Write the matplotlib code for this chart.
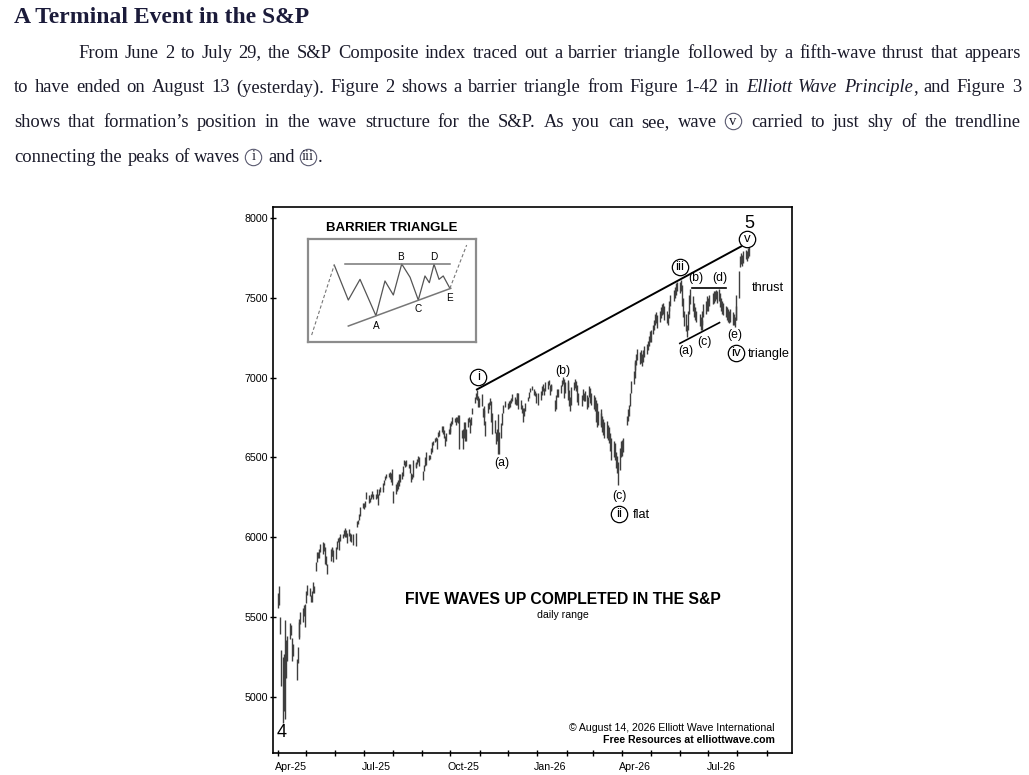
import matplotlib
matplotlib.use('Agg')
import matplotlib.pyplot as plt
import matplotlib.dates as mdates
from matplotlib.lines import Line2D
import pandas as pd

W, H = 1029, 775
SERIF = 'Liberation Serif'
SANS = 'Liberation Sans'
plt.rcParams['font.family'] = SANS

# ---------------- data ----------------
holidays = ['2025-04-18', '2025-05-26', '2025-06-19', '2025-07-04', '2025-09-01',
            '2025-11-27', '2025-12-25', '2026-01-01', '2026-01-19', '2026-02-16',
            '2026-04-03', '2026-05-25', '2026-06-19', '2026-07-03']

highs = [
    # Apr-25
    5650, 5695, 5500, 5292, 5246, 5267, 5481, 5353, 5381, 5459, 5450, 5367, 5328, 5233, 5309, 5470, 5489, 5528, 5553, 5571, 5581,
    # May-25
    5659, 5700, 5683, 5634, 5660, 5721, 5691, 5845, 5907, 5906, 5924, 5959, 5968, 5960, 5940, 5878, 5830, 5925, 5930, 5939, 5920,
    # Jun-25
    5940, 5978, 5991, 5999, 6016, 6021, 6044, 6059, 6045, 6027, 6051, 6024, 6018, 6018, 6028, 6101, 6108, 6146, 6187, 6215,
    # Jul-25
    6211, 6227, 6284, 6262, 6242, 6269, 6290, 6269, 6271, 6302, 6267, 6304, 6316, 6336, 6310, 6360, 6381, 6395, 6401, 6409, 6402, 6427,
    # Aug-25
    6288, 6330, 6344, 6357, 6396, 6395, 6409, 6446, 6480, 6474, 6481, 6458, 6456, 6404, 6394, 6482, 6467, 6468, 6490, 6508, 6501,
    # Sep-25
    6416, 6453, 6502, 6533, 6512, 6512, 6555, 6593, 6601, 6619, 6627, 6623, 6657, 6672, 6696, 6695, 6670, 6634, 6651, 6677, 6689,
    # Oct-25
    6715, 6727, 6750, 6745, 6755, 6755, 6762, 6764, 6673, 6680, 6722, 6721, 6680, 6744, 6752, 6742, 6750, 6808, 6877, 6900, 6920, 6883, 6869,
    # Nov-25
    6896, 6806, 6820, 6797, 6730, 6843, 6849, 6870, 6850, 6775, 6736, 6660, 6680, 6770, 6660, 6716, 6780, 6830, 6853,
    # Dec-25
    6840, 6850, 6862, 6870, 6895, 6880, 6865, 6900, 6905, 6900, 6860, 6825, 6810, 6810, 6840, 6880, 6912, 6937, 6945, 6925, 6915, 6900,
    # Jan-26
    6900, 6915, 6945, 6960, 6935, 6970, 6980, 6986, 6950, 6960, 6955, 6860, 6890, 6930, 6925, 6955, 6985, 7002, 6990, 6970,
    # Feb-26
    6985, 6970, 6920, 6880, 6940, 6970, 6990, 6975, 6950, 6900, 6890, 6925, 6900, 6915, 6890, 6880, 6945, 6935, 6900,
    # Mar-26
    6890, 6880, 6860, 6840, 6790, 6800, 6780, 6760, 6740, 6720, 6730, 6700, 6690, 6650, 6620, 6600, 6590, 6530, 6510, 6470, 6560, 6600,
    # Apr-26
    6610, 6620, 6760, 6800, 6830, 6900, 6980, 7040, 7095, 7110, 7150, 7180, 7160, 7170, 7150, 7175, 7200, 7210, 7230, 7260, 7290,
    # May-26
    7300, 7330, 7360, 7400, 7410, 7390, 7420, 7440, 7460, 7470, 7450, 7420, 7400, 7440, 7480, 7520, 7550, 7570, 7590, 7600,
    # Jun-26
    7600, 7612, 7580, 7500, 7420, 7400, 7330, 7420, 7520, 7557, 7510, 7470, 7440, 7420, 7400, 7380, 7360, 7420, 7460, 7480, 7510,
    # Jul-26
    7500, 7520, 7530, 7540, 7545, 7550, 7540, 7557, 7530, 7500, 7480, 7470, 7450, 7440, 7430, 7420, 7430, 7410, 7400, 7380, 7450, 7520,
    # Aug-26
    7670, 7760, 7780, 7770, 7790, 7800, 7790, 7810, 7815,
]

lows = [
    # Apr-25
    5558, 5571, 5390, 5069, 4835, 4910, 4857, 5116, 5220, 5358, 5386, 5220, 5256, 5101, 5208, 5358, 5372, 5455, 5468, 5505, 5433,
    # May-25
    5586, 5634, 5633, 5590, 5591, 5651, 5646, 5786, 5841, 5868, 5868, 5907, 5896, 5915, 5831, 5826, 5767, 5851, 5883, 5878, 5843,
    # Jun-25
    5862, 5922, 5966, 5921, 5978, 5994, 6005, 6002, 6003, 5963, 6004, 5975, 5971, 5952, 5942, 6060, 6080, 6107, 6133, 6180,
    # Jul-25
    6177, 6187, 6241, 6211, 6217, 6237, 6251, 6240, 6238, 6242, 6201, 6264, 6285, 6303, 6281, 6325, 6360, 6368, 6375, 6361, 6346, 6327,
    # Aug-25
    6212, 6268, 6290, 6300, 6317, 6346, 6364, 6385, 6451, 6441, 6447, 6431, 6400, 6344, 6361, 6377, 6437, 6430, 6458, 6470, 6443,
    # Sep-25
    6360, 6416, 6445, 6452, 6485, 6486, 6522, 6534, 6575, 6596, 6601, 6551, 6624, 6633, 6658, 6645, 6620, 6570, 6605, 6646, 6644,
    # Oct-25
    6656, 6697, 6706, 6718, 6705, 6720, 6716, 6550, 6620, 6552, 6620, 6600, 6605, 6690, 6718, 6655, 6703, 6774, 6840, 6864, 6856, 6813, 6818,
    # Nov-25
    6820, 6753, 6752, 6705, 6631, 6780, 6800, 6830, 6720, 6646, 6650, 6580, 6605, 6522, 6521, 6618, 6700, 6780, 6815,
    # Dec-25
    6800, 6808, 6818, 6840, 6855, 6835, 6830, 6830, 6850, 6800, 6800, 6775, 6718, 6760, 6790, 6850, 6870, 6910, 6920, 6890, 6885, 6842,
    # Jan-26
    6830, 6860, 6890, 6915, 6890, 6915, 6930, 6950, 6890, 6915, 6920, 6790, 6800, 6875, 6880, 6905, 6945, 6960, 6870, 6900,
    # Feb-26
    6920, 6860, 6820, 6790, 6830, 6920, 6935, 6915, 6845, 6830, 6820, 6860, 6850, 6855, 6800, 6815, 6880, 6840, 6830,
    # Mar-26
    6800, 6790, 6720, 6690, 6700, 6700, 6690, 6660, 6640, 6620, 6620, 6610, 6590, 6540, 6480, 6500, 6480, 6430, 6400, 6325, 6420, 6500,
    # Apr-26
    6510, 6530, 6700, 6730, 6760, 6820, 6900, 6960, 7000, 7050, 7080, 7110, 7085, 7090, 7075, 7100, 7130, 7150, 7170, 7195, 7220,
    # May-26
    7220, 7270, 7300, 7330, 7340, 7310, 7350, 7370, 7390, 7400, 7360, 7340, 7330, 7370, 7420, 7450, 7480, 7500, 7520, 7540,
    # Jun-26
    7530, 7540, 7450, 7380, 7320, 7290, 7254, 7300, 7400, 7460, 7420, 7380, 7360, 7350, 7320, 7296, 7300, 7330, 7380, 7400, 7420,
    # Jul-26
    7420, 7450, 7460, 7470, 7480, 7490, 7470, 7480, 7440, 7420, 7400, 7390, 7380, 7360, 7350, 7340, 7350, 7330, 7330, 7316, 7360, 7360,
    # Aug-26
    7500, 7690, 7710, 7700, 7720, 7740, 7730, 7750, 7760,
]

trend_dates = ['2025-10-29', '2026-08-05']
trend_vals = [6925, 7822]
tri_top_dates = ['2026-06-14', '2026-07-20']
tri_top_vals = [7563, 7563]
tri_bot_dates = ['2026-06-01', '2026-07-13']
tri_bot_vals = [7214, 7344]

sub_labels = ['(a)', '(b)', '(c)', '(a)', '(b)', '(c)', '(d)', '(e)']
sub_dates = ['2025-11-24', '2026-01-28', '2026-03-29', '2026-06-07',
             '2026-06-18', '2026-06-27', '2026-07-13', '2026-07-29']
sub_vals = [6462, 7043, 6260, 7166, 7622, 7221, 7626, 7266]

circ_labels = ['i', 'ii', 'iii', 'iv', 'v']
circ_dates = ['2025-10-30 12:00', '2026-03-29 00:00', '2026-06-01 00:00', '2026-07-30 00:00', '2026-08-11 12:00']
circ_vals = [7001, 6142, 7691, 7152, 7866]

note_labels = ['flat', 'triangle', 'thrust']
note_dates = ['2026-04-12 00:00', '2026-08-12 12:00', '2026-09-02 12:00']
note_vals = [6138, 7147, 7559]
note_ha = ['left', 'left', 'center']

degree_labels = ['4', '5']
degree_dates = ['2025-04-05 00:00', '2026-08-13 06:00']
degree_vals = [4773, 7967]

# barrier triangle schematic (inset units 0-100)
bt_x = [15.5, 23.9, 30.9, 40.4, 45.8, 50.8, 55.8, 60.8, 65.7, 69.7, 72.3, 75.1, 78.1, 80.6, 84.6]
bt_y = [74.9, 40.7, 60.9, 25.4, 59.3, 45.6, 75.9, 62.9, 40.7, 64.2, 57.6, 75.6, 60.9, 64.2, 52.1]
bt_in_x, bt_in_y = [2.0, 15.5], [6.5, 74.9]
bt_out_x, bt_out_y = [84.6, 94.6], [52.1, 94.4]
bt_top_x, bt_top_y = [22.0, 84.8], [75.9, 75.9]
bt_bot_x, bt_bot_y = [23.9, 85.1], [15.3, 52.1]
bt_labels = ['A', 'B', 'C', 'D', 'E']
bt_lab_x = [40.4, 55.2, 65.7, 74.7, 84.6]
bt_lab_y = [15.6, 82.4, 31.6, 82.4, 42.4]

# article text; *x* italic, {x} circled, | joins pieces without a space
title = 'A Terminal Event in the S&P'
body_lines = [
    'From June 2 to July 29, the S&P Composite index traced out a barrier triangle followed by a fifth-wave thrust that appears',
    'to have ended on August 13 (yesterday). Figure 2 shows a barrier triangle from Figure 1-42 in *Elliott *Wave *Principle|, and Figure 3',
    'shows that formation\u2019s position in the wave structure for the S&P. As you can see, wave {v} carried to just shy of the trendline',
    'connecting the peaks of waves {i} and {iii}|.',
]

# ---------------- figure ----------------
fig = plt.figure(figsize=(W / 100, H / 100), dpi=100)
fig.patch.set_facecolor('white')
renderer = fig.canvas.get_renderer()

BODY_PT = 13.3
TEXT_COL = '#1a1a2a'


def fxy(x, y):
    return x / W, 1 - y / H


def seg_width(txt, kind):
    if kind == 'c':
        return 18.5
    t = fig.text(0, 0, txt, fontsize=BODY_PT, family=SERIF,
                 style='italic' if kind == 'i' else 'normal')
    w = t.get_window_extent(renderer).width
    t.remove()
    return w


def parse_word(word):
    segs = []
    for s in word.split('|'):
        if s.startswith('*'):
            segs.append((s[1:], 'i'))
        elif s.startswith('{'):
            segs.append((s[1:-1], 'c'))
        else:
            segs.append((s, 'n'))
    return segs


def draw_segment(x, base, txt, kind):
    if kind == 'c':
        cx, cy = x + 8.5, base - 6.0
        fig.add_artist(Line2D([cx / W], [1 - cy / H], transform=fig.transFigure,
                              marker='o', ms=11.8, mfc='none', mec='#5a5a70', mew=0.8))
        fig.text(*fxy(cx, cy), txt, fontsize=10.5, family=SERIF, color=TEXT_COL,
                 ha='center', va='center')
    else:
        fig.text(*fxy(x, base), txt, fontsize=BODY_PT, family=SERIF, color=TEXT_COL,
                 style='italic' if kind == 'i' else 'normal', va='baseline')


space_w = seg_width('a a', 'n') - seg_width('aa', 'n')


def draw_line(line, x0, x1, base, justify):
    words = [parse_word(w) for w in line.split(' ')]
    widths = [[seg_width(t, k) for t, k in w] for w in words]
    total = sum(sum(w) for w in widths)
    gap = (x1 - x0 - total) / (len(words) - 1) if justify else space_w
    x = x0
    for w, ws in zip(words, widths):
        for (t, k), sw in zip(w, ws):
            draw_segment(x, base, t, k)
            x += sw
        x += gap


fig.text(*fxy(14, 23), title, fontsize=17, family=SERIF, weight='bold',
         color='#1b1b3a', va='baseline')
line_base = [57.5, 92.5, 127.3, 162.5]
line_x0 = [78, 14, 14, 14]
for i, (ln, b, x0) in enumerate(zip(body_lines, line_base, line_x0)):
    draw_line(ln, x0, 1021, b, justify=(i < len(body_lines) - 1))

# ---------------- chart ----------------
ax = fig.add_axes([272.7 / W, 1 - 753 / H, 519 / W, 545.7 / H])
days = pd.bdate_range('2025-04-01', '2026-08-13', freq='C', holidays=holidays)
xd = mdates.date2num(days[:len(highs)])
ax.vlines(xd, lows, highs, color='#3f3f3f', lw=1.0)


def dnum(lst):
    return mdates.date2num(pd.to_datetime(lst, format='mixed'))


ax.set_xlim(dnum(['2025-03-26 16:00', '2026-09-27 12:00']))
ax.set_ylim(4646, 8067)
ax.xaxis.set_major_locator(mdates.MonthLocator())
ax.xaxis.set_major_formatter(plt.NullFormatter())
ax.xaxis.set_minor_locator(mdates.MonthLocator(bymonth=[1, 4, 7, 10], bymonthday=15))
ax.xaxis.set_minor_formatter(mdates.DateFormatter('%b-%y'))
ax.tick_params(axis='x', which='major', direction='inout', length=4.5, width=1.0)
ax.tick_params(axis='x', which='minor', length=0, pad=6.5, labelsize=7.7)
ax.set_yticks([5000, 5500, 6000, 6500, 7000, 7500, 8000])
ax.tick_params(axis='y', direction='inout', length=4.0, width=1.0, pad=1.5, labelsize=7.7)
for sp in ax.spines.values():
    sp.set_linewidth(1.2)

ax.plot(dnum(trend_dates), trend_vals, color='black', lw=1.4)
ax.plot(dnum(tri_top_dates), tri_top_vals, color='black', lw=1.2)
ax.plot(dnum(tri_bot_dates), tri_bot_vals, color='black', lw=1.2)

for s, d, v in zip(sub_labels, dnum(sub_dates), sub_vals):
    ax.text(d, v, s, fontsize=8.8, ha='center', va='center')
for s, d, v in zip(circ_labels, dnum(circ_dates), circ_vals):
    ax.plot([d], [v], marker='o', ms=11.8, mfc='white', mec='black', mew=0.9, zorder=4)
    ax.text(d, v, s, fontsize=9.5, ha='center', va='center', zorder=5)
for s, d, v, ha in zip(note_labels, dnum(note_dates), note_vals, note_ha):
    ax.text(d, v, s, fontsize=9.2, ha=ha, va='center')
for s, d, v in zip(degree_labels, dnum(degree_dates), degree_vals):
    ax.text(d, v, s, fontsize=13, ha='center', va='center')

ax.text(0.5593, 0.2804, 'FIVE WAVES UP COMPLETED IN THE S&P', transform=ax.transAxes,
        fontsize=11.3, weight='bold', ha='center', va='center')
ax.text(0.5593, 0.2529, 'daily range', transform=ax.transAxes, fontsize=7.6,
        ha='center', va='center')
ax.text(0.9678, 0.0458, '\u00a9 August 14, 2026 Elliott Wave International',
        transform=ax.transAxes, fontsize=7.6, ha='right', va='center')
ax.text(0.9678, 0.0238, 'Free Resources at elliottwave.com', transform=ax.transAxes,
        fontsize=7.6, weight='bold', ha='right', va='center')

# barrier triangle inset
axi = fig.add_axes([308.3 / W, 1 - 341.7 / H, 167.4 / W, 102.4 / H])
axi.set_xlim(0, 100)
axi.set_ylim(0, 100)
axi.set_xticks([])
axi.set_yticks([])
for sp in axi.spines.values():
    sp.set_color('#8c8c8c')
    sp.set_linewidth(1.6)
axi.plot(bt_x, bt_y, color='#555555', lw=0.9)
axi.plot(bt_in_x, bt_in_y, color='#777777', lw=0.8, ls=(0, (3, 2)))
axi.plot(bt_out_x, bt_out_y, color='#777777', lw=0.8, ls=(0, (3, 2)))
axi.plot(bt_top_x, bt_top_y, color='#777777', lw=1.1)
axi.plot(bt_bot_x, bt_bot_y, color='#777777', lw=1.1)
for s, x, y in zip(bt_labels, bt_lab_x, bt_lab_y):
    axi.text(x, y, s, fontsize=7.2, ha='center', va='center')
axi.text(49.8, 110.7, 'BARRIER TRIANGLE', fontsize=9.5, weight='bold',
         ha='center', va='center', clip_on=False)

fig.savefig('out.png', dpi=100)
